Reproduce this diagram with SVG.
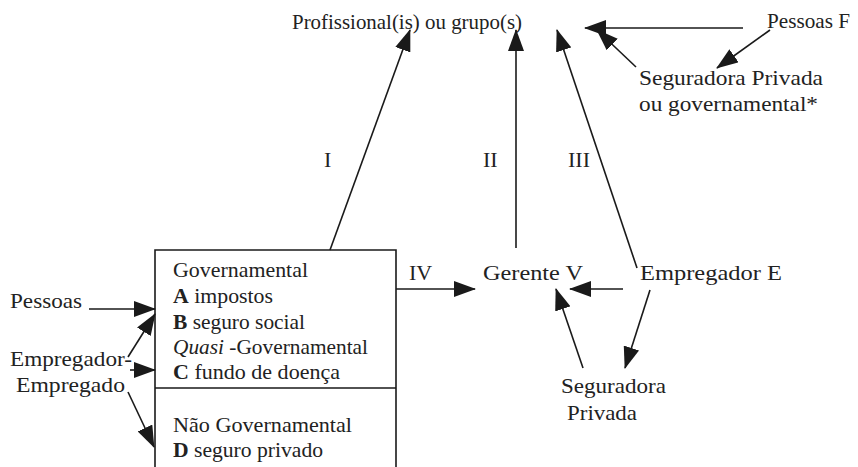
<svg xmlns="http://www.w3.org/2000/svg" width="858" height="467" viewBox="0 0 858 467">
<defs>
<marker id="ah" markerUnits="userSpaceOnUse" markerWidth="22" markerHeight="16" viewBox="0 0 22 16" refX="21" refY="8" orient="auto">
<path d="M0,0 L22,8 L0,16 Z" fill="#1a1a1a"/>
</marker>
</defs>
<style>
text{font-family:'Liberation Serif','DejaVu Serif',serif;font-size:22px;fill:#222}
.b{font-weight:bold}
.i{font-style:italic}
.c{stroke:#1a1a1a;stroke-width:1.6;fill:none;marker-end:url(#ah)}
.l{stroke:#1a1a1a;stroke-width:1.6;fill:none}
</style>
<rect width="858" height="467" fill="#fff"/>
<g id="profissional"><text x="292" y="29" textLength="230" lengthAdjust="spacingAndGlyphs">Profissional(is) ou grupo(s)</text></g>
<g id="pessoasF"><text x="767" y="28" textLength="83" lengthAdjust="spacingAndGlyphs">Pessoas F</text></g>
<g id="seguradoraPG"><text x="639" y="85" textLength="184" lengthAdjust="spacingAndGlyphs">Seguradora Privada</text><text x="639" y="111" textLength="179" lengthAdjust="spacingAndGlyphs">ou governamental*</text></g>
<g id="labels"><text x="324" y="167">I</text><text x="483" y="167">II</text><text x="568" y="167">III</text><text x="409" y="280">IV</text></g>
<g id="gerente"><text x="483" y="280" textLength="100" lengthAdjust="spacingAndGlyphs">Gerente V</text></g>
<g id="empregadorE"><text x="640" y="280" textLength="142" lengthAdjust="spacingAndGlyphs">Empregador E</text></g>
<g id="seguradoraP"><text x="561" y="393" textLength="105" lengthAdjust="spacingAndGlyphs">Seguradora</text><text x="567" y="420" textLength="70" lengthAdjust="spacingAndGlyphs">Privada</text></g>
<g id="pessoas"><text x="10" y="308" textLength="72" lengthAdjust="spacingAndGlyphs">Pessoas</text></g>
<g id="empEmp"><text x="10" y="366" textLength="122" lengthAdjust="spacingAndGlyphs">Empregador-</text><text x="16" y="392" textLength="109" lengthAdjust="spacingAndGlyphs">Empregado</text></g>
<g id="box">
<path class="l" d="M155,470 V250 H396 V470 M155,388 H396"/>
<text x="173" y="277" textLength="135" lengthAdjust="spacingAndGlyphs">Governamental</text>
<text x="173" y="303" textLength="100" lengthAdjust="spacingAndGlyphs"><tspan class="b">A</tspan> impostos</text>
<text x="173" y="329" textLength="132" lengthAdjust="spacingAndGlyphs"><tspan class="b">B</tspan> seguro social</text>
<text x="173" y="354" textLength="195" lengthAdjust="spacingAndGlyphs"><tspan class="i">Quasi</tspan> -Governamental</text>
<text x="173" y="379" textLength="167" lengthAdjust="spacingAndGlyphs"><tspan class="b">C</tspan> fundo de doença</text>
<text x="173" y="432" textLength="179" lengthAdjust="spacingAndGlyphs">Não Governamental</text>
<text x="173" y="457" textLength="150" lengthAdjust="spacingAndGlyphs"><tspan class="b">D</tspan> seguro privado</text>
</g>
<g id="connectors">
<line class="c" x1="330" y1="250" x2="410" y2="30"/>
<line class="c" x1="516" y1="248" x2="516" y2="30"/>
<line class="c" x1="637" y1="268" x2="557" y2="30"/>
<line class="c" x1="743" y1="28" x2="585" y2="28"/>
<line class="c" x1="636" y1="67" x2="597" y2="30"/>
<line class="c" x1="770" y1="30" x2="717" y2="68"/>
<line class="c" x1="396" y1="289" x2="475" y2="289"/>
<line class="c" x1="623" y1="289" x2="570" y2="289"/>
<line class="c" x1="650" y1="290" x2="625" y2="368"/>
<line class="c" x1="583" y1="368" x2="556" y2="289"/>
<line class="c" x1="89" y1="309" x2="155" y2="309"/>
<line class="c" x1="128" y1="357" x2="155" y2="314"/>
<line class="c" x1="130" y1="370" x2="155" y2="370"/>
<line class="c" x1="128" y1="392" x2="154" y2="447"/>
</g>
</svg>
